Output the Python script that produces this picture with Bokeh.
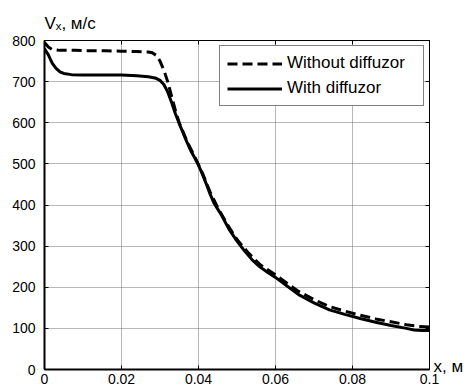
from bokeh.plotting import figure
from bokeh.models import Range1d, LinearAxis, Legend, LegendItem, Label, FixedTicker
from bokeh.embed import file_html
from bokeh.resources import INLINE

# ---- data ----
x_with = [0, 0.001, 0.002, 0.003, 0.004, 0.005, 0.007, 0.010, 0.015, 0.020, 0.024, 0.027,
          0.029, 0.030, 0.031, 0.032, 0.033, 0.034, 0.035, 0.036, 0.037, 0.038, 0.039, 0.040,
          0.041, 0.042, 0.043, 0.044, 0.045, 0.046, 0.048, 0.050, 0.052, 0.054, 0.056, 0.058,
          0.060, 0.063, 0.066, 0.070, 0.074, 0.078, 0.082, 0.086, 0.090, 0.094, 0.096, 0.098, 0.100]
v_with = [780, 765, 745, 732, 724, 720, 717, 716, 716, 716, 714, 712,
          708, 703, 693, 675, 650, 622, 598, 575, 553, 532, 515, 497,
          475, 452, 427, 405, 390, 375, 340, 312, 288, 266, 249, 236,
          224, 203, 182, 162, 145, 134, 124, 115, 107, 100, 96, 95, 95]

x_without = [0, 0.001, 0.002, 0.004, 0.008, 0.012, 0.016, 0.020, 0.024, 0.027, 0.028, 0.029,
             0.030, 0.031, 0.032, 0.033, 0.034, 0.035, 0.037, 0.039, 0.041, 0.043, 0.045, 0.048,
             0.050, 0.053, 0.056, 0.060, 0.063, 0.066, 0.070, 0.074, 0.078, 0.082, 0.086, 0.090,
             0.094, 0.097, 0.100]
v_without = [795, 784, 778, 776, 776, 775, 775, 774, 773, 772, 770, 764,
             750, 728, 700, 665, 630, 600, 555, 518, 478, 432, 393, 345,
             316, 283, 255, 230, 210, 190, 170, 153, 142, 132, 123, 116,
             109, 105, 103]

x_ticks = [0, 0.02, 0.04, 0.06, 0.08, 0.1]
x_tick_labels = {0: "0", 0.02: "0.02", 0.04: "0.04", 0.06: "0.06", 0.08: "0.08", 0.1: "0.1"}
y_ticks = [0, 100, 200, 300, 400, 500, 600, 700, 800]

FONT = "Liberation Sans"

p = figure(width=469, height=392, output_backend="svg", toolbar_location=None,
           x_range=Range1d(0, 0.1), y_range=Range1d(0, 800),
           min_border_left=44, min_border_right=40, min_border_top=40, min_border_bottom=23,
           background_fill_color="white", border_fill_color="white")

p.outline_line_color = "black"
p.outline_line_width = 1

for ax in (p.xaxis[0], p.yaxis[0]):
    ax.axis_line_width = 2
    ax.axis_line_color = "black"
    ax.major_tick_in = 4
    ax.major_tick_out = 0
    ax.minor_tick_in = 0
    ax.minor_tick_out = 0
    ax.major_tick_line_color = "black"
    ax.major_label_text_font = FONT
    ax.major_label_text_font_size = "14px"
    ax.major_label_text_color = "black"

p.xaxis[0].ticker = FixedTicker(ticks=x_ticks)
p.xaxis[0].major_label_overrides = x_tick_labels
p.xaxis[0].major_label_standoff = 4
p.yaxis[0].ticker = FixedTicker(ticks=y_ticks)
p.yaxis[0].major_label_standoff = 9

top_ax = LinearAxis(ticker=FixedTicker(ticks=x_ticks), major_label_text_color=None,
                    major_tick_in=4, major_tick_out=0, minor_tick_in=0, minor_tick_out=0,
                    axis_line_color="black", axis_line_width=1, major_label_standoff=0,
                    major_label_text_font_size="1px")
right_ax = LinearAxis(ticker=FixedTicker(ticks=y_ticks), major_label_text_color=None,
                      major_tick_in=4, major_tick_out=0, minor_tick_in=0, minor_tick_out=0,
                      axis_line_color="black", axis_line_width=1, major_label_standoff=0,
                      major_label_text_font_size="1px")
p.add_layout(top_ax, "above")
p.add_layout(right_ax, "right")

p.xgrid.ticker = FixedTicker(ticks=x_ticks)
p.ygrid.ticker = FixedTicker(ticks=y_ticks)
for g in (p.xgrid[0], p.ygrid[0]):
    g.grid_line_color = "#6e6e6e"
    g.grid_line_dash = "1 1"
    g.grid_line_width = 1

r_without = p.line(x_without, v_without, line_color="black", line_width=3, line_dash="10 5")
r_with = p.line(x_with, v_with, line_color="black", line_width=3)

legend = Legend(items=[LegendItem(label="Without diffuzor", renderers=[r_without]),
                       LegendItem(label="With diffuzor", renderers=[r_with])],
                location=(175, 263), padding=7, spacing=5, glyph_width=55, glyph_height=19,
                label_height=19, label_width=129, label_standoff=5,
                label_text_font=FONT, label_text_font_size="17px", label_text_color="black",
                border_line_color="black", border_line_width=1,
                background_fill_color="white", background_fill_alpha=1, margin=0)
p.add_layout(legend)

p.add_layout(Label(x=0, y=17, x_units="screen", y_units="screen", text="Vₓ, м/с",
                   text_baseline="alphabetic", text_font=FONT, text_font_size="17px",
                   text_color="black"), "above")
p.add_layout(Label(x=4, y=3, x_units="screen", y_units="screen", text="x, м",
                   text_baseline="alphabetic", text_font=FONT, text_font_size="17px",
                   text_color="black"), "right")

open("out.html", "w").write(file_html(p, INLINE))
